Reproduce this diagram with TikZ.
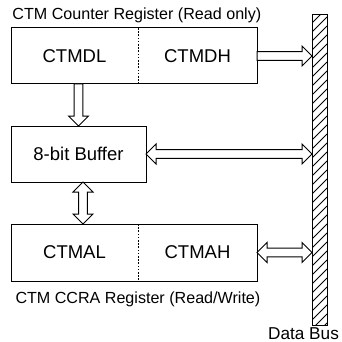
\documentclass[tikz,border=0pt]{standalone}
\usepackage{fontspec}
\setmainfont{Liberation Sans}
\usetikzlibrary{calc}
% single-headed horizontal block arrow, head at #2
\newcommand{\myHS}[2]{\draw[blk] let \p1=(#1), \p2=(#2) in
  (\x1,\y1+4.3pt) -- (\x2-10pt,\y1+4.3pt) -- (\x2-10pt,\y1+10pt) -- (\x2,\y1)
  -- (\x2-10pt,\y1-10pt) -- (\x2-10pt,\y1-4.3pt) -- (\x1,\y1-4.3pt) -- cycle;}
% double-headed horizontal block arrow
\newcommand{\myHD}[2]{\draw[blk] let \p1=(#1), \p2=(#2) in
  (\x1,\y1) -- (\x1+10pt,\y1+10pt) -- (\x1+10pt,\y1+4.3pt) -- (\x2-10pt,\y1+4.3pt)
  -- (\x2-10pt,\y1+10pt) -- (\x2,\y1) -- (\x2-10pt,\y1-10pt) -- (\x2-10pt,\y1-4.3pt)
  -- (\x1+10pt,\y1-4.3pt) -- (\x1+10pt,\y1-10pt) -- cycle;}
% single-headed vertical block arrow (downwards), head at #2
\newcommand{\myVS}[2]{\draw[blk] let \p1=(#1), \p2=(#2) in
  (\x1-4.3pt,\y1) -- (\x1-4.3pt,\y2+10pt) -- (\x1-10pt,\y2+10pt) -- (\x1,\y2)
  -- (\x1+10pt,\y2+10pt) -- (\x1+4.3pt,\y2+10pt) -- (\x1+4.3pt,\y1) -- cycle;}
% double-headed vertical block arrow
\newcommand{\myVD}[2]{\draw[blk] let \p1=(#1), \p2=(#2) in
  (\x1,\y1) -- (\x1-10pt,\y1-10pt) -- (\x1-4.3pt,\y1-10pt) -- (\x1-4.3pt,\y2+10pt)
  -- (\x1-10pt,\y2+10pt) -- (\x1,\y2) -- (\x1+10pt,\y2+10pt) -- (\x1+4.3pt,\y2+10pt)
  -- (\x1+4.3pt,\y1-10pt) -- (\x1+10pt,\y1-10pt) -- cycle;}
\begin{document}
\begin{tikzpicture}[x=1pt,y=-1pt,
  line width=1pt,
  reg/.style={draw, line width=1pt},
  half/.style={inner sep=0pt, outer sep=0pt, minimum height=56pt, font=\fontsize{18.5}{20}\selectfont},
  blk/.style={draw, fill=white, line width=1pt, line join=miter},
  captext/.style={inner sep=0pt, font=\fontsize{16.1}{18}\selectfont},
  divider/.style={dash pattern=on 1.6pt off 1.6pt, line width=1pt}]
\useasboundingbox (0,0) rectangle (342,342);

% top register
\node[half, minimum width=127pt] (dl) at (74.5,56) {CTMDL};
\node[half, minimum width=119pt] (dh) at (197.5,56) {CTMDH};
\draw[reg] (dl.north west) rectangle (dh.south east);
\draw[divider] (dl.north east) -- (dl.south east);
\node[captext, anchor=base west] (ttl) at (12,19.5) {CTM Counter Register (Read only)};

% buffer
\node[reg, half, minimum width=135pt, outer sep=0pt] (buf) at (78.5,154) {8-bit Buffer};

% bottom register
\node[half, minimum width=127pt, minimum height=57pt] (al) at (74.5,252.5) {CTMAL};
\node[half, minimum width=119pt, minimum height=57pt] (ah) at (197.5,252.5) {CTMAH};
\draw[reg] (al.north west) rectangle (ah.south east);
\draw[divider] (al.north east) -- (al.south east);
\node[captext, anchor=base west] (btl) at (15,303) {CTM CCRA Register (Read/Write)};

% data bus
\node[draw, line width=1pt, minimum width=15pt, minimum height=310pt, inner sep=0pt, outer sep=0pt] (bus) at (319.5,170) {};
\begin{scope}
  \clip (bus.north west) rectangle (bus.south east);
  \foreach \k in {0,...,37} {
    \draw[line width=0.8pt] ($(bus.north west)+(0,9*\k+8)$) -- ++(15,-15);
  }
\end{scope}
\draw[line width=1pt] (bus.north west) rectangle (bus.south east);
\node[font=\fontsize{17.2}{20}\selectfont, inner sep=0pt, anchor=base] (dbl) at (303.5,339) {Data Bus};

% connectors
\coordinate (c1) at (buf.north |- dl.south);
\myVS{c1}{buf.north}
\coordinate (c2) at ($(buf.south)+(4.5,0)$);
\coordinate (c3) at (c2 |- al.north);
\myVD{c2}{c3}
\myHS{dh.east}{dh.east -| bus.west}
\myHD{buf.east}{buf.east -| bus.west}
\myHD{ah.east}{ah.east -| bus.west}
\end{tikzpicture}
\end{document}
